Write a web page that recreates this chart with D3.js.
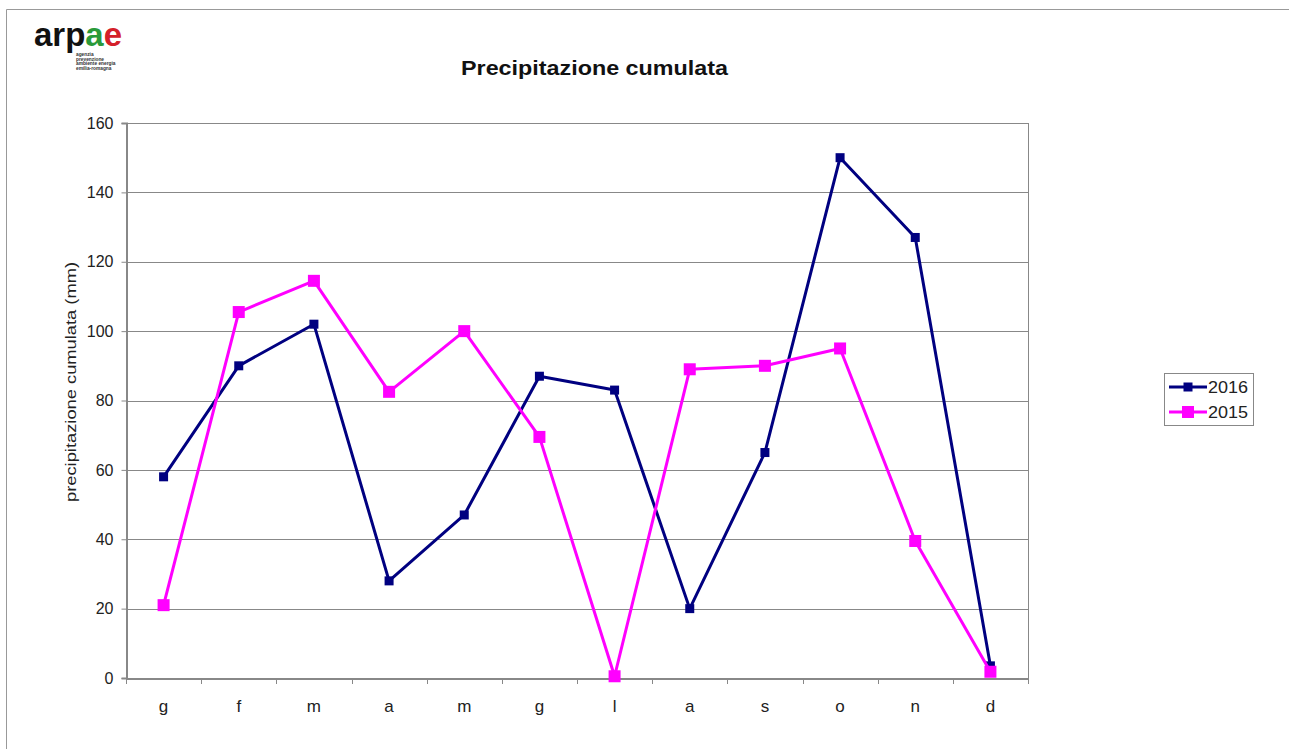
<!DOCTYPE html>
<html><head><meta charset="utf-8">
<script src="https://cdn.jsdelivr.net/npm/d3@7"></script>
<style>body{margin:0;background:#fff;}svg{display:block;font-family:"Liberation Sans",Arial,sans-serif;}</style>
</head><body>
<svg id="c" width="1289" height="749"></svg>
<script>
const months = ["g","f","m","a","m","g","l","a","s","o","n","d"];
const values2016 = [58, 90, 102, 28, 47, 87, 83, 20, 65, 150, 127, 3.5];
const values2015 = [21, 105.5, 114.5, 82.5, 100, 69.5, 0.5, 89, 90, 95, 39.5, 1.8];
const yTicks = [0, 20, 40, 60, 80, 100, 120, 140, 160];
const seriesNames = ["2016", "2015"];
const seriesColors = ["#000080", "#FF00FF"];

const svg = d3.select("#c");
// outer frame (top & left)
svg.append("line").attr("x1",6.5).attr("x2",1289).attr("y1",9.5).attr("y2",9.5).attr("stroke","#999").attr("stroke-width",1);
svg.append("line").attr("x1",6.5).attr("x2",6.5).attr("y1",9.5).attr("y2",749).attr("stroke","#999").attr("stroke-width",1);

// logo
const logo = svg.append("text").attr("x",34).attr("y",46).attr("font-size",33).attr("font-weight","bold")
  .attr("textLength",88).attr("lengthAdjust","spacingAndGlyphs");
logo.append("tspan").text("arp").attr("fill","#111");
logo.append("tspan").text("a").attr("fill","#2a9a3a");
logo.append("tspan").text("e").attr("fill","#d4202a");
["agenzia","prevenzione","ambiente energia","emilia-romagna"].forEach((t,i)=>{
  svg.append("text").attr("x",76).attr("y",56+i*4.6).attr("font-size",4.8).attr("font-weight","bold").attr("fill","#333").text(t);
});

const L = 126, R = 1028, T = 123, B = 678;
const x = d3.scaleBand().domain(d3.range(months.length)).range([L,R]).paddingInner(0).paddingOuter(0);
const y = d3.scaleLinear().domain([0,160]).range([B,T]);

// title
svg.append("text").attr("x",461).attr("y",75).attr("font-size",20).attr("font-weight","bold").attr("fill","#111")
  .attr("textLength",267).attr("lengthAdjust","spacingAndGlyphs").text("Precipitazione cumulata");

// gridlines
svg.append("g").selectAll("line").data(yTicks.filter(d=>d>0)).join("line")
  .attr("x1",L).attr("x2",R).attr("y1",d=>Math.round(y(d))+0.5).attr("y2",d=>Math.round(y(d))+0.5)
  .attr("stroke","#888").attr("stroke-width",1);
// right border
svg.append("line").attr("x1",R+0.5).attr("x2",R+0.5).attr("y1",T).attr("y2",B).attr("stroke","#888");

// y axis
const yAxis = svg.append("g").attr("transform",`translate(${L+0.5},0)`)
  .call(d3.axisLeft(y).tickValues(yTicks).tickSize(5).tickPadding(8));
yAxis.select(".domain").attr("stroke","#888").attr("stroke-width",2);
yAxis.selectAll(".tick line").attr("stroke","#888");
yAxis.selectAll("text").attr("font-size",16).attr("fill","#222").attr("font-family","Liberation Sans, Arial, sans-serif");

// x axis
const xAxis = svg.append("g").attr("transform",`translate(0,${B+0.5})`)
  .call(d3.axisBottom(x).tickFormat(i=>months[i]).tickSize(0).tickPadding(21));
xAxis.select(".domain").attr("stroke","#888").attr("stroke-width",2);
xAxis.selectAll("text").attr("font-size",17).attr("fill","#222").attr("font-family","Liberation Sans, Arial, sans-serif");
// x category separators
svg.append("g").selectAll("line").data(d3.range(months.length+1)).join("line")
  .attr("x1",i=>Math.round(L + i*x.step())+0.5).attr("x2",i=>Math.round(L + i*x.step())+0.5)
  .attr("y1",B).attr("y2",B+6).attr("stroke","#888");

// y axis label
svg.append("text").attr("transform","translate(76,382) rotate(-90)").attr("text-anchor","middle")
  .attr("font-size",15.5).attr("fill","#222").attr("textLength",240).attr("lengthAdjust","spacingAndGlyphs")
  .text("precipitazione cumulata (mm)");

const cx = i => x(i) + x.bandwidth()/2;
const line = d3.line().x((d,i)=>cx(i)).y(d=>y(d));

// 2016
svg.append("path").datum(values2016).attr("d",line).attr("fill","none").attr("stroke",seriesColors[0]).attr("stroke-width",3).attr("stroke-linejoin","round");
svg.append("g").selectAll("rect").data(values2016).join("rect")
  .attr("x",(d,i)=>cx(i)-4.5).attr("y",d=>y(d)-4.5).attr("width",9).attr("height",9).attr("fill",seriesColors[0]);
// 2015
svg.append("path").datum(values2015).attr("d",line).attr("fill","none").attr("stroke",seriesColors[1]).attr("stroke-width",3).attr("stroke-linejoin","round");
svg.append("g").selectAll("rect").data(values2015).join("rect")
  .attr("x",(d,i)=>cx(i)-6).attr("y",d=>y(d)-6).attr("width",12).attr("height",12).attr("fill",seriesColors[1]);

// legend
const lg = svg.append("g");
lg.append("rect").attr("x",1164.5).attr("y",373.5).attr("width",89).attr("height",52).attr("fill","#fff").attr("stroke","#888");
seriesNames.forEach((n,i)=>{
  const yy = 387 + i*25;
  lg.append("line").attr("x1",1169).attr("x2",1207).attr("y1",yy).attr("y2",yy).attr("stroke",seriesColors[i]).attr("stroke-width",3);
  const s = i===0?9:12;
  lg.append("rect").attr("x",1188-s/2).attr("y",yy-s/2).attr("width",s).attr("height",s).attr("fill",seriesColors[i]);
  lg.append("text").attr("x",1208).attr("y",yy+6).attr("font-size",16).attr("fill","#222")
    .attr("textLength",40).attr("lengthAdjust","spacingAndGlyphs").text(n);
});
</script>
</body></html>
